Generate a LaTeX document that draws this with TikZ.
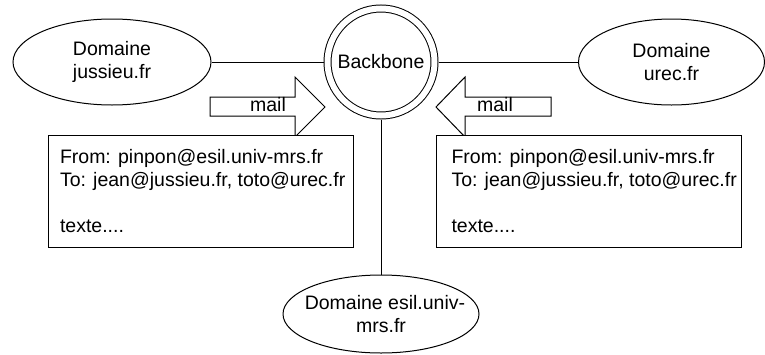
\documentclass[tikz,border=0pt]{standalone}
\usepackage{fontspec}
\setmainfont{Liberation Sans}
\usetikzlibrary{shapes.geometric, positioning, calc}

\tikzset{
  domaine/.style={draw, ellipse, minimum width=99pt, minimum height=43pt, inner sep=0pt, align=center},
  mailbox/.style={draw, fill=white, rectangle, minimum width=152.5pt, minimum height=56pt, inner sep=0pt},
  mailtext/.style={anchor=north west, align=left, inner sep=0pt},
  bigarrow/.style={draw, fill=white, line join=miter},
}

\begin{document}
\begin{tikzpicture}[x=0.5pt, y=-0.5pt, line width=0.5pt, font=\fontsize{9.75}{11.5}\selectfont]
    \useasboundingbox (0,0) rectangle (765,354);
    % backbone and domains
    \node[draw, circle, double, double distance=3pt, minimum size=53.5pt, inner sep=0pt, outer sep=2pt] (backbone) at (381,62) {Backbone};
    \node[domaine] (jussieu) at (112,62) {Domaine\\jussieu.fr};
    \node[domaine, minimum width=93pt] (urec) at (671.5,62) {Domaine\\urec.fr};
    \node[domaine, minimum width=98pt, minimum height=39pt] (esil) at (381,314) {};
    \node[align=center, inner sep=0pt] (esiltext) at ([xshift=2pt]esil.center) {Domaine esil.univ-\\\hspace*{-4pt}mrs.fr};
    \draw (jussieu.east) -- (backbone.west);
    \draw (backbone.east) -- (urec.west);
    \draw (backbone.south) -- (esil.north);
    % mail arrows
    \draw[bigarrow] (210,97) -- (295,97) -- (295,77) -- (325,107) -- (295,137) -- (295,116) -- (210,116) -- cycle;
    \node (lmail) at (268,105) {mail};
    \draw[bigarrow] (551,97) -- (465,97) -- (465,77) -- (436,107) -- (465,137) -- (465,116) -- (551,116) -- cycle;
    \node (rmail) at (495,105) {mail};
    % messages
    \node[mailbox] (lbox) at (200.5,191) {};
    \node[mailbox] (rbox) at (589,191) {};
    \node[mailtext] (ltext) at ([shift={(6pt,-7.4pt)}]lbox.north west) {From: pinpon@esil.univ-mrs.fr\\To: jean@jussieu.fr, toto@urec.fr\\[11.5pt]texte....};
    \node[mailtext] (rtext) at ([shift={(7.5pt,-7.4pt)}]rbox.north west) {From: pinpon@esil.univ-mrs.fr\\To: jean@jussieu.fr, toto@urec.fr\\[11.5pt]texte....};
\end{tikzpicture}
\end{document}
